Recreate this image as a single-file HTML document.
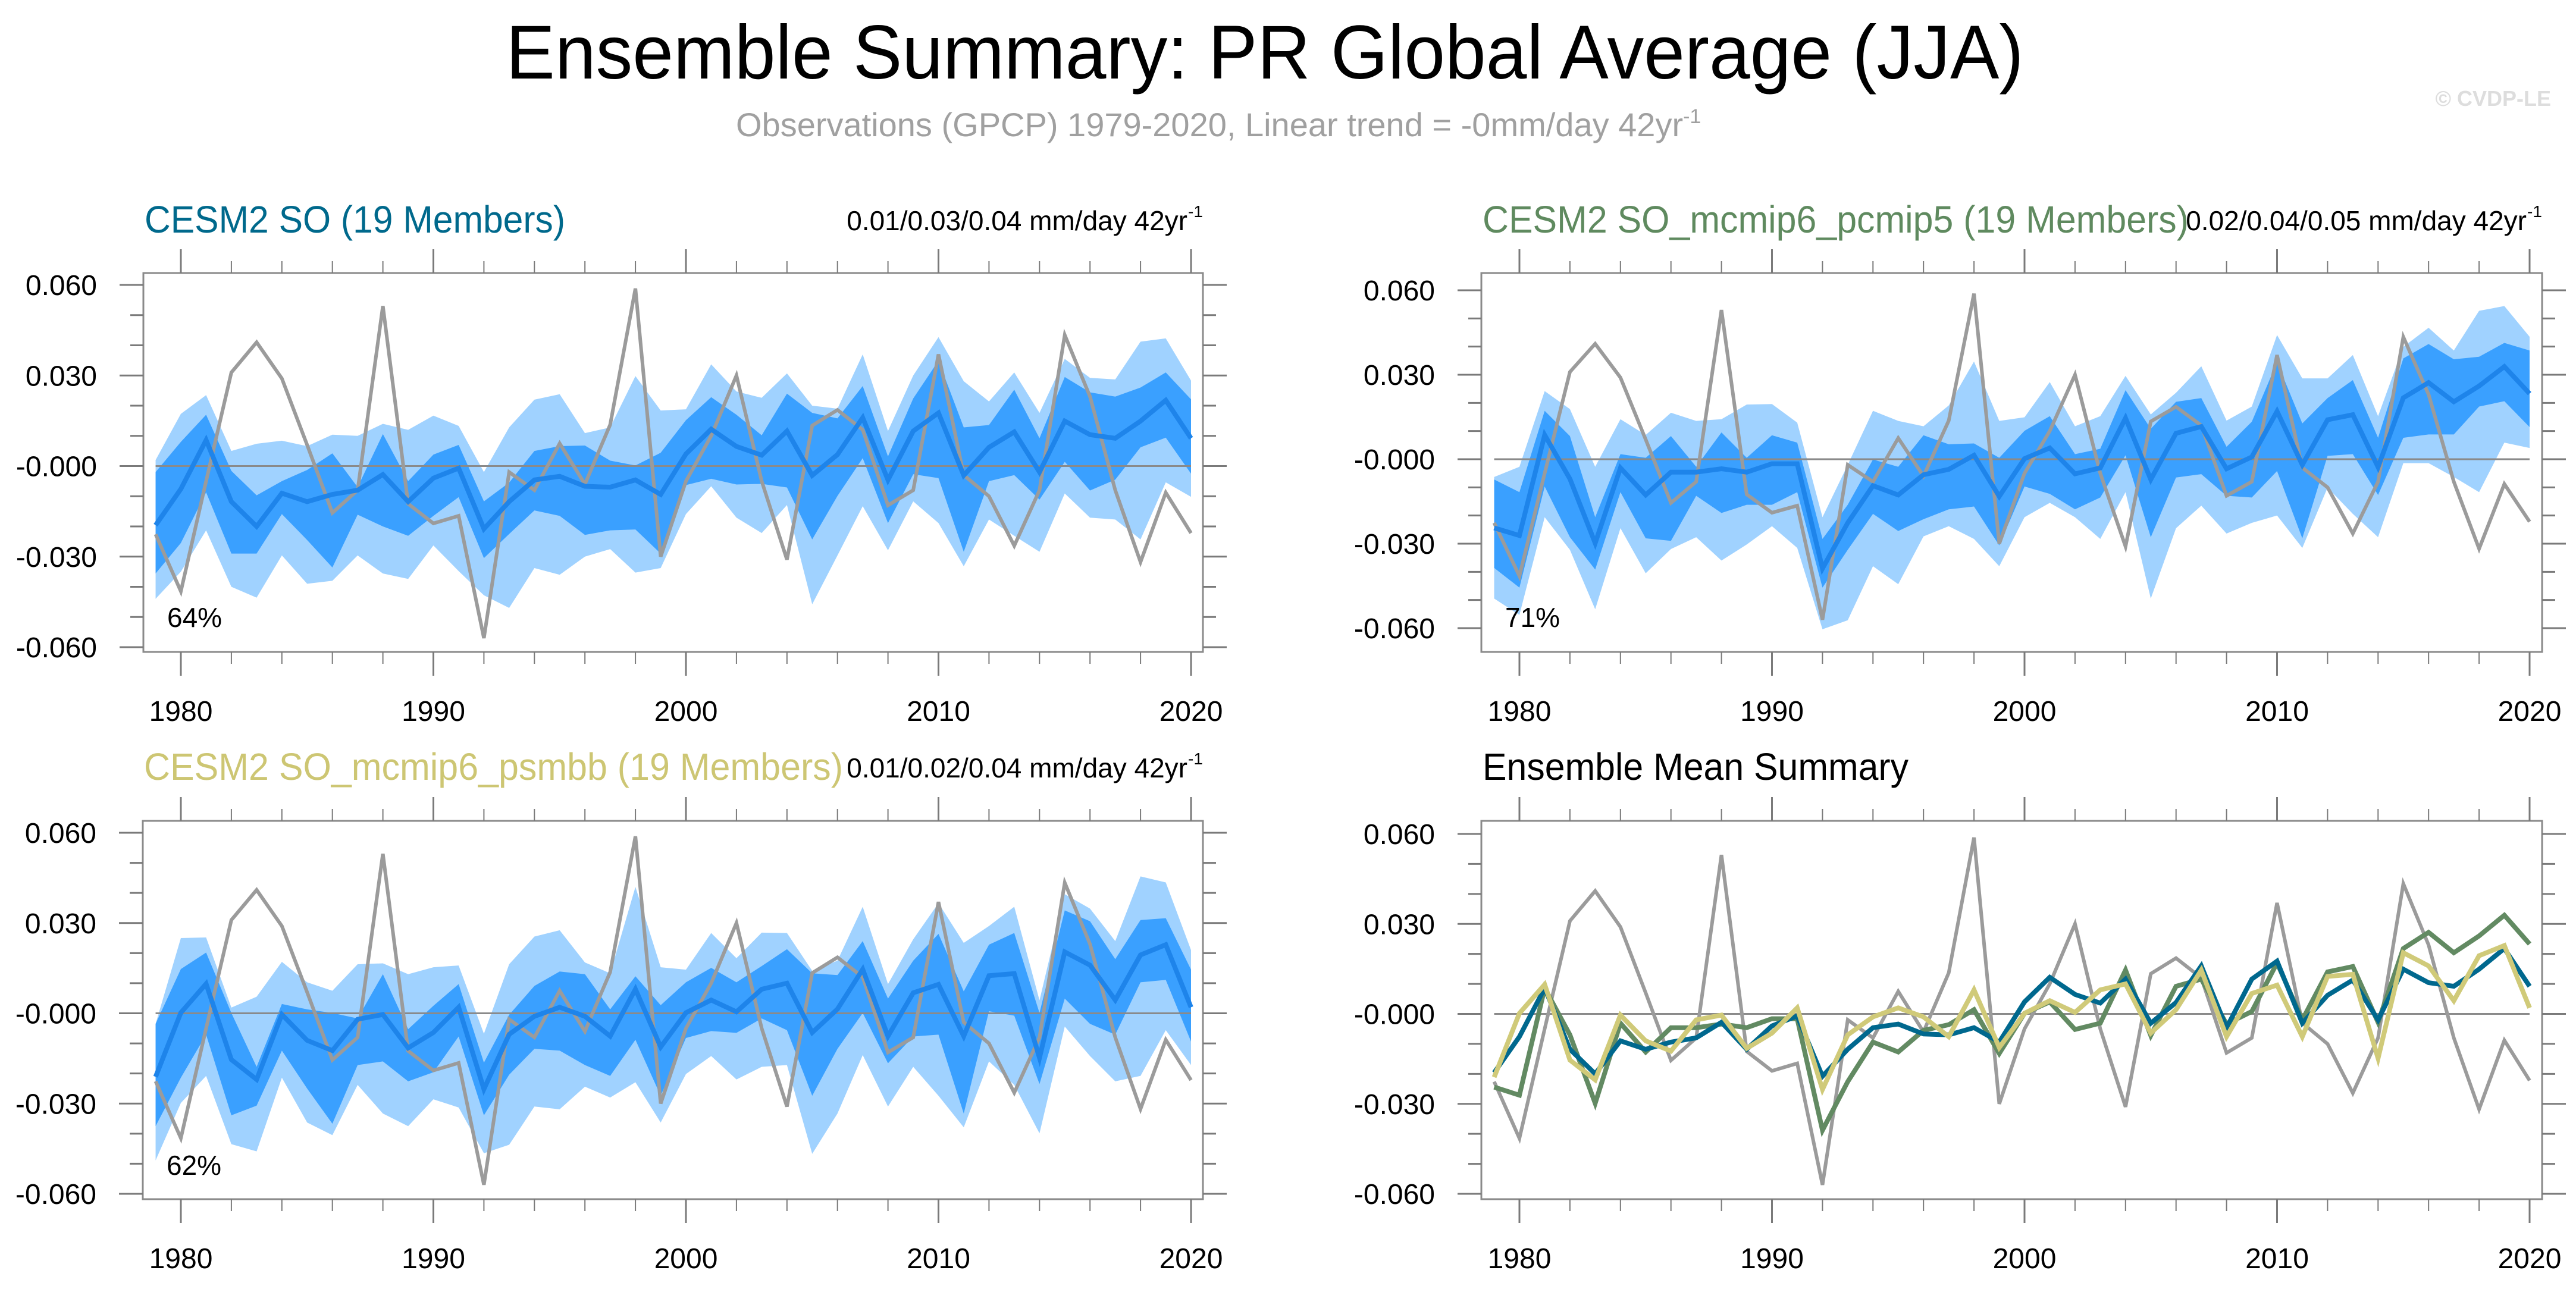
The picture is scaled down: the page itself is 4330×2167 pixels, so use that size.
<!DOCTYPE html>
<html><head><meta charset="utf-8">
<style>
html,body{margin:0;padding:0;background:#fff;}
svg{display:block;font-family:"Liberation Sans",sans-serif;}
</style></head>
<body>
<svg id="chart" xmlns="http://www.w3.org/2000/svg" width="4330" height="2167" viewBox="0 0 4330 2167">
<rect x="0" y="0" width="4330" height="2167" fill="#fff"/>
<text x="2126" y="132" font-size="128" text-anchor="middle" textLength="2551" lengthAdjust="spacingAndGlyphs" fill="#000">Ensemble Summary: PR Global Average (JJA)</text>
<text x="1237" y="229" font-size="56" fill="#a0a0a0">Observations (GPCP) 1979-2020, Linear trend = -0mm/day 42yr<tspan font-size="34" dy="-22">-1</tspan></text>
<text x="4288" y="178" font-size="36" font-weight="bold" text-anchor="end" fill="#dddddd">© CVDP-LE</text>
<g id="panels"></g>
</svg>
<script>
const years = [];
for (let y = 1979; y <= 2020; y++) years.push(y);
const obs = [-0.0226,-0.0415,-0.005,0.031,0.041,0.029,0.007,-0.0155,-0.008,0.053,-0.0125,-0.019,-0.0165,-0.057,-0.002,-0.008,0.0075,-0.006,0.0137,0.0588,-0.030,-0.005,0.010,0.030,-0.005,-0.031,0.0134,0.0186,0.012,-0.013,-0.008,0.037,-0.003,-0.010,-0.0264,-0.008,0.0434,0.023,-0.008,-0.0318,-0.0088,-0.0222];
const meanSO = [-0.0196,-0.0076,0.0086,-0.0118,-0.020,-0.009,-0.0118,-0.0094,-0.008,-0.0028,-0.0118,-0.004,-0.0007,-0.0208,-0.0118,-0.0046,-0.0034,-0.0067,-0.007,-0.0046,-0.0094,0.004,0.0122,0.0065,0.0036,0.0116,-0.0031,0.0038,0.016,-0.0046,0.0116,0.0176,-0.0031,0.0062,0.0113,-0.002,0.0149,0.0104,0.0092,0.0149,0.0218,0.0092];
const meanPC = [-0.0244,-0.0271,0.0086,-0.007,-0.0298,-0.0031,-0.0127,-0.0046,-0.0046,-0.0034,-0.0046,-0.0016,-0.0016,-0.0388,-0.0226,-0.0094,-0.0127,-0.0055,-0.0036,0.0014,-0.0132,0.0002,0.004,-0.0052,-0.0031,0.0146,-0.0072,0.0092,0.0116,-0.0034,0.0008,0.017,-0.002,0.014,0.0158,-0.0028,0.0218,0.0272,0.0204,0.026,0.0329,0.0233];
const meanPS = [-0.0211,0.0002,0.0098,-0.0154,-0.022,-0.0004,-0.009,-0.0124,-0.002,-0.0004,-0.0115,-0.0064,0.002,-0.0252,-0.007,-0.001,0.002,-0.001,-0.0076,0.008,-0.0112,0.0002,0.0044,0.0005,0.008,0.01,-0.0064,0.0014,0.0146,-0.0076,0.0068,0.0096,-0.0076,0.0125,0.0132,-0.0148,0.0204,0.016,0.0044,0.0194,0.0228,0.002];
const p1LightHi = [0.002,0.0173,0.0235,0.005,0.0074,0.0084,0.0066,0.0104,0.010,0.014,0.012,0.0167,0.0133,-0.002,0.0128,0.022,0.0238,0.0109,0.0128,0.0298,0.0184,0.0188,0.0337,0.0247,0.0226,0.0307,0.02,0.019,0.037,0.0116,0.030,0.0427,0.0281,0.0214,0.031,0.0176,0.0355,0.0292,0.0287,0.0412,0.0423,0.0283];
const p1LightLo = [-0.044,-0.035,-0.0213,-0.040,-0.0436,-0.0296,-0.039,-0.038,-0.0296,-0.0356,-0.0374,-0.0263,-0.0348,-0.0428,-0.047,-0.0338,-0.036,-0.030,-0.0275,-0.0353,-0.0338,-0.0159,-0.0067,-0.0171,-0.0222,-0.0129,-0.0458,-0.0296,-0.0133,-0.0279,-0.0117,-0.0189,-0.0332,-0.0177,-0.0231,-0.0284,-0.0091,-0.0171,-0.0177,-0.0243,-0.0054,-0.0102];
const p1DarkHi = [-0.002,0.008,0.017,-0.0016,-0.0097,-0.005,-0.0013,0.0042,-0.007,0.0106,-0.005,0.0038,0.007,-0.0117,-0.0055,0.005,0.0066,0.0068,0.0018,0.0002,0.0044,0.0152,0.0228,0.017,0.0102,0.024,0.0176,0.0158,0.0265,0.0032,0.0224,0.0349,0.0128,0.0136,0.0253,0.0092,0.0295,0.0244,0.023,0.026,0.031,0.0221];
const p1DarkLo = [-0.0356,-0.0255,-0.0087,-0.029,-0.029,-0.0159,-0.0245,-0.0336,-0.0161,-0.020,-0.0231,-0.0165,-0.0103,-0.0305,-0.0225,-0.0147,-0.0165,-0.0228,-0.0213,-0.021,-0.029,-0.0063,-0.0042,-0.0061,-0.0059,-0.0071,-0.0243,-0.0099,0.0026,-0.0189,-0.0027,-0.004,-0.0284,-0.005,-0.003,-0.0111,0.0014,-0.0081,-0.0045,0.0062,0.0094,-0.0025];
const p2LightHi = [-0.0063,-0.0027,0.0242,0.0178,-0.0027,0.0142,0.0086,0.0165,0.0136,0.0142,0.0194,0.0196,0.013,-0.0206,-0.002,0.0172,0.0136,0.0117,0.0191,0.0347,0.0136,0.0149,0.0274,0.0117,0.0153,0.0296,0.0159,0.0236,0.033,0.0137,0.0187,0.0441,0.0287,0.0287,0.037,0.0153,0.0399,0.0467,0.0386,0.0527,0.0544,0.0435];
const p2LightLo = [-0.0495,-0.0553,-0.0206,-0.0322,-0.0533,-0.0245,-0.0405,-0.0319,-0.0277,-0.036,-0.0303,-0.0238,-0.0315,-0.0604,-0.0572,-0.038,-0.0444,-0.0274,-0.0238,-0.0283,-0.038,-0.0206,-0.0155,-0.0206,-0.0283,-0.0117,-0.0495,-0.0245,-0.0165,-0.0264,-0.0226,-0.02,-0.0315,-0.0101,-0.0194,-0.0277,-0.0014,-0.0014,-0.0063,-0.0117,0.0059,0.004];
const p2DarkHi = [-0.0072,-0.0117,0.0172,0.0082,-0.0206,0.0018,0.0005,0.0082,-0.0027,0.0095,0.0005,0.0085,0.0059,-0.0283,-0.0162,-0.0001,-0.0027,0.0085,0.0053,0.0056,0.0005,0.0101,0.0153,0.0018,0.0037,0.0245,0.0108,0.0204,0.0217,0.0044,0.0133,0.0345,0.0127,0.0217,0.0281,0.0076,0.0358,0.0409,0.0355,0.0364,0.0413,0.0386];
const p2DarkLo = [-0.0386,-0.0456,-0.0097,-0.0277,-0.0392,-0.0117,-0.0281,-0.029,-0.013,-0.0191,-0.0162,-0.0162,-0.0117,-0.0456,-0.0322,-0.0194,-0.0255,-0.0213,-0.0178,-0.0168,-0.0306,-0.0097,-0.0123,-0.0178,-0.0136,0.0014,-0.0277,-0.0065,-0.0053,-0.013,-0.0136,-0.0042,-0.0281,0.0012,0.0018,-0.0127,0.0076,0.0088,0.0088,0.0187,0.0206,0.0114];
const p3LightHi = [-0.0035,0.025,0.0252,0.0019,0.0055,0.0171,0.0103,0.0075,0.0163,0.0166,0.013,0.0153,0.0159,-0.0068,0.0163,0.0255,0.0276,0.0169,0.0133,0.042,0.0153,0.0145,0.0267,0.0183,0.0268,0.0267,0.0141,0.0175,0.0354,0.0097,0.0246,0.0366,0.0234,0.029,0.0354,0.0043,0.0396,0.0348,0.024,0.0455,0.0435,0.021];
const p3LightLo = [-0.0489,-0.0298,-0.0208,-0.0435,-0.0459,-0.0214,-0.0363,-0.0405,-0.0238,-0.0333,-0.0375,-0.0286,-0.0313,-0.0465,-0.0437,-0.031,-0.0319,-0.0244,-0.028,-0.0229,-0.0363,-0.0202,-0.0142,-0.022,-0.0178,-0.0172,-0.0467,-0.0333,-0.0139,-0.031,-0.0178,-0.0274,-0.0379,-0.016,-0.0238,-0.0399,-0.0044,-0.0142,-0.0226,-0.0208,-0.0056,-0.0172];
const p3DarkHi = [-0.0035,0.0147,0.0202,0.0001,-0.0178,0.0031,0.0013,0.0001,-0.0017,0.013,-0.0053,0.0025,0.0097,-0.0164,-0.0005,0.0091,0.0139,0.013,0.0013,0.0123,0.0027,0.0103,0.0151,0.0103,0.0157,0.0213,0.0133,0.0127,0.024,0.0049,0.0175,0.0264,0.0073,0.0228,0.0267,0.0001,0.0342,0.0306,0.018,0.031,0.0316,0.0145];
const p3DarkLo = [-0.0375,-0.0214,-0.0071,-0.0339,-0.0307,-0.0124,-0.025,-0.0367,-0.0172,-0.016,-0.0226,-0.0196,-0.0077,-0.0339,-0.0204,-0.0118,-0.0124,-0.0172,-0.0208,-0.0088,-0.0274,-0.0082,-0.0059,-0.0065,-0.0017,-0.0056,-0.0274,-0.0118,0.0001,-0.0166,-0.0077,-0.0071,-0.0333,0.0007,-0.0008,-0.0235,0.0049,-0.0035,-0.0071,0.0103,0.0111,-0.0094];
const yTickVals = [0.06,0.03,0,-0.03,-0.06];
const yTickLabels = ["0.060","0.030","-0.000","-0.030","-0.060"];
const xTickVals = [1980,1990,2000,2010,2020];
const percentLabels = ["64%","71%","62%"];

const NS = "http://www.w3.org/2000/svg";
const root = document.getElementById("panels");
function el(tag, attrs, parent) {
  const e = document.createElementNS(NS, tag);
  for (const k in attrs) e.setAttribute(k, attrs[k]);
  (parent || root).appendChild(e);
  return e;
}
const panels = [
  {box:[241,459,2022,1096], xa:304, xb:2002, y6:479, ym6:1088, title:"CESM2 SO (19 Members)", tcol:"#00698c", tlen:707, tbase:391, trend:"0.01/0.03/0.04 mm/day 42yr", pct:percentLabels[0], pctY:1054, bands:[p1LightHi,p1LightLo,p1DarkHi,p1DarkLo], mean:meanSO},
  {box:[2490,459,4273,1096], xa:2554, xb:4252, y6:488, ym6:1056, title:"CESM2 SO_mcmip6_pcmip5 (19 Members)", tcol:"#5f8a5f", tlen:1187, tbase:391, trend:"0.02/0.04/0.05 mm/day 42yr", pct:percentLabels[1], pctY:1054, bands:[p2LightHi,p2LightLo,p2DarkHi,p2DarkLo], mean:meanPC},
  {box:[240,1380,2022,2016], xa:304, xb:2002, y6:1400, ym6:2007, title:"CESM2 SO_mcmip6_psmbb (19 Members)", tcol:"#cdc673", tlen:1175, tbase:1311, trend:"0.01/0.02/0.04 mm/day 42yr", pct:percentLabels[2], pctY:1975, bands:[p3LightHi,p3LightLo,p3DarkHi,p3DarkLo], mean:meanPS},
  {box:[2490,1380,4273,2016], xa:2554, xb:4252, y6:1402, ym6:2007, title:"Ensemble Mean Summary", tcol:"#000", tlen:716, tbase:1311, trend:null, summary:true}
];
panels.forEach((p, pi) => {
  const g = el("g", {});
  
  
  const X = yr => p.xa + (yr - 1980) * (p.xb - p.xa) / 40;
  const Y = v => p.y6 + (0.06 - v) * (p.ym6 - p.y6) / 0.12;
  const [bx0, by0, bx1, by1] = p.box;
  const poly = (hi, lo, fill, name) => {
    let pts = years.map((yr, i) => X(yr) + "," + Y(hi[i]));
    for (let i = years.length - 1; i >= 0; i--) pts.push(X(years[i]) + "," + Y(lo[i]));
    const e = el("polygon", {points: pts.join(" "), fill: fill}, g);
    
    
  };
  const line = (vals, col, w, name) => {
    const e = el("polyline", {points: years.map((yr, i) => X(yr) + "," + Y(vals[i])).join(" "), fill: "none", stroke: col, "stroke-width": w, "stroke-linejoin": "miter"}, g);
    
    
  };
  if (p.bands) {
    poly(p.bands[0], p.bands[1], "#a0d2ff", "outer-spread-band");
    poly(p.bands[2], p.bands[3], "#3aa0ff", "inner-spread-band");
  }
  const z = el("line", {x1: X(1979), x2: X(2020), y1: Y(0), y2: Y(0), stroke: "#8a8a8a", "stroke-width": 3}, g);
  
  
  line(obs, "#9b9b9b", 6, "observations-line");
  if (p.bands) {
    line(p.mean, "#1e84ea", 8, "ensemble-mean-line");
  } else {
    line(meanPC, "#628a62", 8, "mean-line-pcmip5");
    line(meanSO, "#00688e", 8, "mean-line-so");
    line(meanPS, "#d0ca79", 8, "mean-line-psmbb");
  }
  const b = el("rect", {x: bx0, y: by0, width: bx1 - bx0, height: by1 - by0, fill: "none", stroke: "#8a8a8a", "stroke-width": 3}, g);
  
  
  // y ticks
  for (let v = -6; v <= 6; v++) {
    const yy = Y(v / 100);
    const major = v % 3 === 0;
    const len = major ? 40 : 22;
    el("line", {x1: bx0 - len, x2: bx0, y1: yy, y2: yy, stroke: "#7a7a7a", "stroke-width": 3}, g);
    el("line", {x1: bx1, x2: bx1 + len, y1: yy, y2: yy, stroke: "#7a7a7a", "stroke-width": 3}, g);
  }
  yTickVals.forEach((v, i) => {
    const t = el("text", {x: 163, y: Y(v) + 17, "font-size": 48, "text-anchor": "end", fill: "#000"}, g);
    t.setAttribute('x', bx0 - 78);
    t.textContent = yTickLabels[i];
    
    
  });
  // x ticks
  for (let yr = 1980; yr <= 2020; yr += 2) {
    const xx = X(yr);
    const major = yr % 10 === 0;
    const len = major ? 40 : 20;
    el("line", {x1: xx, x2: xx, y1: by0 - len, y2: by0, stroke: "#7a7a7a", "stroke-width": major ? 3 : 2}, g);
    el("line", {x1: xx, x2: xx, y1: by1, y2: by1 + len, stroke: "#7a7a7a", "stroke-width": major ? 3 : 2}, g);
  }
  xTickVals.forEach(yr => {
    const t = el("text", {x: X(yr), y: by1 + 116, "font-size": 48, "text-anchor": "middle", fill: "#000"}, g);
    t.textContent = String(yr);
    
    
  });
  const tt = el("text", {x: bx0 + 2, y: p.tbase, "font-size": 64, fill: p.tcol, textLength: p.tlen, lengthAdjust: "spacingAndGlyphs"}, g);
  tt.textContent = p.title;
  
  
  if (p.trend) {
    const tr = el("text", {x: bx1 - 26, y: p.tbase - 4, "font-size": 46, "text-anchor": "end", fill: "#000"}, g);
    tr.textContent = p.trend;
    
    
    const sp = el("text", {x: bx1 - 25, y: p.tbase - 26, "font-size": 28, fill: "#000"}, g);
    sp.textContent = "-1";
    
    
  }
  if (p.pct) {
    const pc = el("text", {x: bx0 + 40, y: p.pctY, "font-size": 46, fill: "#000"}, g);
    pc.textContent = p.pct;
    
    
  }
});
</script>
</body></html>
